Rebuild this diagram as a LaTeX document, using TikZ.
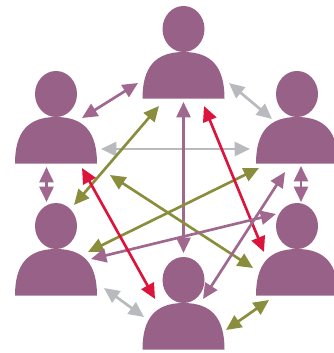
\documentclass[tikz,border=0pt]{standalone}
\usetikzlibrary{arrows.meta}
\definecolor{pers}{HTML}{986188}
\definecolor{mauve}{HTML}{A0688F}
\definecolor{greyc}{HTML}{B8BABD}
\definecolor{olive}{HTML}{8A8E3C}
\definecolor{redc}{HTML}{DC143C}
\tikzset{
  x=0.75pt,y=-0.75pt,
  link/.style={line width=2pt,{Triangle[length=11.5pt,width=10.5pt]}-{Triangle[length=11.5pt,width=10.5pt]}},
  pl/.style={link,draw=mauve},
  gr/.style={link,draw=greyc},
  ol/.style={link,draw=olive},
  rd/.style={link,draw=redc},
  person/.pic={
    \fill[pers] (0,-23) ellipse [x radius=21,y radius=23];
    \fill[pers] (-41,46.5) -- (41,46.5) .. controls (41,15) and (28,0) .. (0,0)
      .. controls (-28,0) and (-41,15) .. (-41,46.5) -- cycle;
  }
}
\begin{document}
\begin{tikzpicture}
\useasboundingbox (0,0) rectangle (334,353);
\begin{scope}
\clip (0,0) rectangle (334,353);
\pic at (183.5,52) {person};
\pic at (56,117) {person};
\pic at (297,117) {person};
\pic at (56,249) {person};
\pic at (297,249) {person};
\pic at (183.5,303) {person};
\end{scope}
\coordinate (a1) at (82,118); \coordinate (a2) at (138,83);
\coordinate (b1) at (229,83); \coordinate (b2) at (272,119);
\coordinate (c1) at (101,149); \coordinate (c2) at (250,149);
\coordinate (d1) at (159,106); \coordinate (d2) at (74,205);
\coordinate (e1) at (183.5,102); \coordinate (e2) at (183.5,253);
\coordinate (f1) at (204,106); \coordinate (f2) at (264,252);
\coordinate (g1) at (259,168); \coordinate (g2) at (88,252);
\coordinate (h1) at (110,175); \coordinate (h2) at (253,268);
\coordinate (i1) at (91,259); \coordinate (i2) at (276,214);
\coordinate (j1) at (285,172); \coordinate (j2) at (203,299);
\coordinate (k1) at (82,168); \coordinate (k2) at (155,299);
\coordinate (l1) at (104,288); \coordinate (l2) at (144,317);
\coordinate (m1) at (226,330); \coordinate (m2) at (269,300);
\coordinate (n1) at (46.5,167); \coordinate (n2) at (46.5,202);
\coordinate (o1) at (301,166); \coordinate (o2) at (301,202);
\draw[gr] (c1) -- (c2);
\draw[pl] (e1) -- (e2);
\draw[ol] (d1) -- (d2);
\draw[ol] (g1) -- (g2);
\draw[ol] (h1) -- (h2);
\draw[rd] (f1) -- (f2);
\draw[pl] (i1) -- (i2);
\draw[pl] (j1) -- (j2);
\draw[rd] (k1) -- (k2);
\draw[pl] (a1) -- (a2);
\draw[gr] (b1) -- (b2);
\draw[gr] (l1) -- (l2);
\draw[ol] (m1) -- (m2);
\draw[pl] (n1) -- (n2);
\draw[pl] (o1) -- (o2);
\end{tikzpicture}
\end{document}
